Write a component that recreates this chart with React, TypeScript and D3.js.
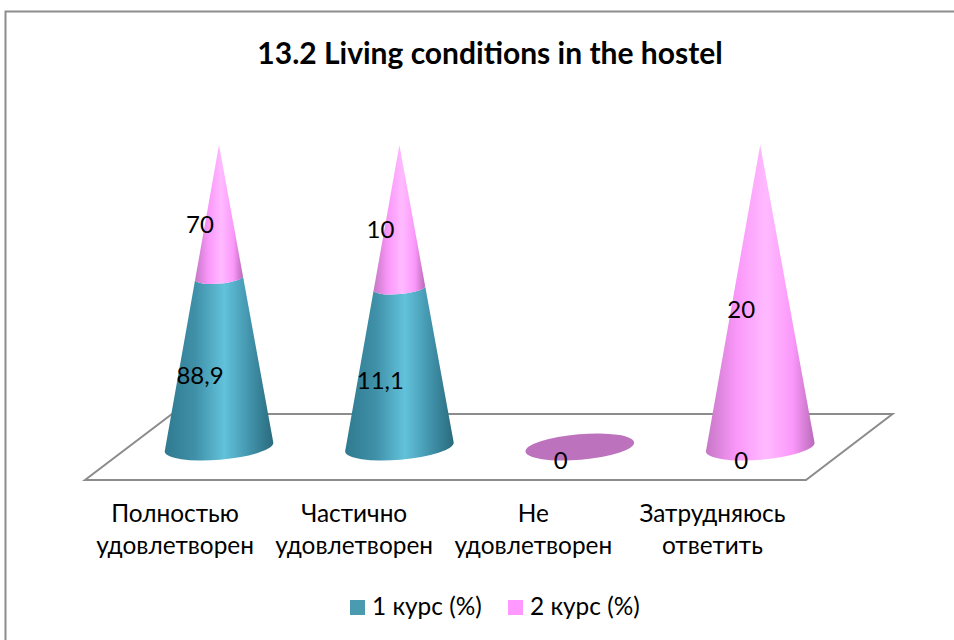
import React from 'react';
import {scaleBand, scaleLinear, stack, stackOffsetExpand, path as d3path, line} from 'd3';

const categories = ['Полностью|удовлетворен', 'Частично|удовлетворен', 'Не|удовлетворен', 'Затрудняюсь|ответить'];
const course1 = [88.9, 11.1, 0, 0];
const course2 = [70, 10, 0, 20];
const seriesNames = ['1 курс (%)', '2 курс (%)'];
const title = '13.2 Living conditions in the hostel';

const font = 'Lato, "Noto Sans", sans-serif';
const tilt = 4.8 * Math.PI / 180;
const baseRx = 54.5;
const baseRy = 12.7;

const xScale = scaleBand().domain(categories).range([128.8, 850.4]);
// the labels follow the front edge of the floor, not the cones
const labelScale = scaleBand().domain(categories).range([85.5, 802]);
const yScale = scaleLinear().domain([0, 1]).range([447, 145]);

const rows = categories.map((c, i) => ({cat: c, s0: course1[i], s1: course2[i]}));
const stacked = stack().keys(['s0', 's1']).offset(stackOffsetExpand)(rows);

const floorLine = line();
const floor = floorLine([[85, 480], [806, 480], [892.5, 414], [172, 414]]) + 'Z';

// one piece of a cone, from value v0 up to value v1 (0..1)
function conePiece(cx, v0, v1) {
    const y0 = yScale(v0), y1 = yScale(v1);
    const r0 = baseRx * (1 - v0), r1 = baseRx * (1 - v1);
    const ry0 = baseRy * (1 - v0), ry1 = baseRy * (1 - v1);
    const c = Math.cos(tilt), s = Math.sin(tilt);
    const rot = -4.8;
    const p = d3path();
    p.moveTo(cx - r0 * c, y0 + r0 * s);
    let d = p.toString();
    d += `A${r0} ${ry0} ${rot} 0 0 ${cx + r0 * c} ${y0 - r0 * s}`;
    d += `L${cx + r1 * c} ${y1 - r1 * s}`;
    if (r1 > 0) d += `A${r1} ${ry1} ${rot} 0 1 ${cx - r1 * c} ${y1 + r1 * s}`;
    return d + 'Z';
}

export default function App() {
    const fills = ['url(#teal)', 'url(#pink)'];
    const centers = categories.map(c => xScale(c) + xScale.bandwidth() / 2);
    return (
        <svg width={954} height={640} style={{position: 'absolute', left: 0, top: 0, background: '#fff'}} fontFamily={font}>
            <defs>
                <linearGradient id="teal" x1="0" x2="1" y1="0" y2="0">
                    <stop offset="0" stopColor="#2f7a90" />
                    <stop offset="0.28" stopColor="#3f90a8" />
                    <stop offset="0.55" stopColor="#62c2db" />
                    <stop offset="0.8" stopColor="#3f90a8" />
                    <stop offset="1" stopColor="#2a6a7d" />
                </linearGradient>
                <linearGradient id="pink" x1="0" x2="1" y1="0" y2="0">
                    <stop offset="0" stopColor="#c677c6" />
                    <stop offset="0.28" stopColor="#fa97fa" />
                    <stop offset="0.55" stopColor="#ffbaff" />
                    <stop offset="0.8" stopColor="#fb98fb" />
                    <stop offset="1" stopColor="#b96ab9" />
                </linearGradient>
            </defs>

            <path d="M954 11.5H5.5V640" fill="none" stroke="#8c8c8c" strokeWidth={2} />
            <text x={490} y={64} textAnchor="middle" fontSize={30} fontWeight={700}>{title}</text>

            <path d={floor} fill="#fff" stroke="#8c8c8c" strokeWidth={2} />

            {stacked.map((layer, si) => layer.map((d, i) => {
                if (d[1] - d[0] <= 0) return null;
                return <path key={si + '-' + i} d={conePiece(centers[i], d[0], d[1])} fill={fills[si]} />;
            }))}
            {categories.map((c, i) => (stacked[1][i][1] === 0 ? (
                <ellipse key={c} cx={centers[i]} cy={yScale(0)} rx={baseRx} ry={baseRy} fill="#bd72bd"
                    transform={`rotate(-4.8 ${centers[i]} ${yScale(0)})`} />
            ) : null))}

            {stacked.map((layer, si) => layer.map((d, i) => {
                const val = si === 0 ? course1[i] : course2[i];
                if (si === 1 && val === 0) return null; // both series are 0 there, one label is enough
                return (
                    <text key={si + '-' + i} x={centers[i] - 19} y={yScale((d[0] + d[1]) / 2) + 21.5}
                        textAnchor="middle" fontSize={24}>{String(val).replace('.', ',')}</text>
                );
            }))}

            {categories.map((c, i) => c.split('|').map((t, j) => (
                <text key={c + j} x={labelScale(c) + labelScale.bandwidth() / 2} y={522 + j * 32} textAnchor="middle" fontSize={24.4}>{t}</text>
            )))}

            {seriesNames.map((s, i) => (
                <g key={s} transform={`translate(${350 + i * 158},600)`}>
                    <rect width={15} height={15} fill={i === 0 ? '#4a9ab0' : '#ff99ff'} />
                    <text x={22} y={15} fontSize={24.4}>{s}</text>
                </g>
            ))}
        </svg>
    );
}
